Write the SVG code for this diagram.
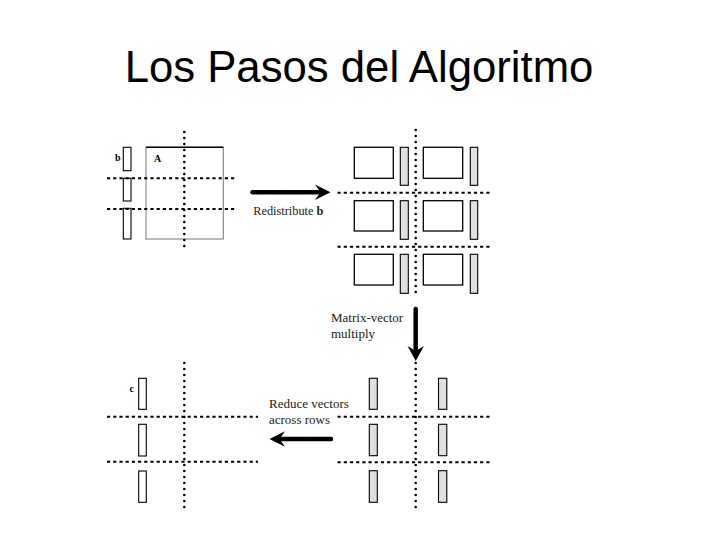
<svg xmlns="http://www.w3.org/2000/svg" width="720" height="540" viewBox="0 0 720 540">
<style>
.title{font-family:"Liberation Sans",Arial,sans-serif;font-size:43.7px;fill:#000}
.lbl{font-family:"Liberation Serif","Times New Roman",serif;font-size:13px;fill:#222}
.bl{font-family:"Liberation Serif","Times New Roman",serif;font-size:10px;font-weight:bold;fill:#000}
.blk{fill:#fff;stroke:#000;stroke-width:1.3}
.vec{fill:#fff;stroke:#000;stroke-width:1.1}
.gvec{fill:#e0e0e0;stroke:#000;stroke-width:1.1}
.vdot{stroke:#000;stroke-width:2.6;stroke-linecap:round;stroke-dasharray:0 6;fill:none}
.hdash{stroke:#000;stroke-width:2;stroke-dasharray:3.2 3;fill:none}
.arr{stroke:#000;stroke-width:4.5;stroke-linecap:round;fill:none}
.head{fill:#000}
</style>
<rect width="720" height="540" fill="#fff"/>
<text class="title" x="359" y="82" text-anchor="middle">Los Pasos del Algoritmo</text>

<g id="step1">
  <rect x="146" y="147.3" width="77.3" height="91.7" fill="none" stroke="#777" stroke-width="1"/>
  <line x1="146" y1="147.3" x2="223.3" y2="147.3" stroke="#000" stroke-width="1.5"/>
  <text class="bl" x="154" y="162">A</text>
  <rect class="vec" x="123.3" y="147.3" width="7.7" height="23.4"/>
  <rect class="vec" x="123.3" y="178.3" width="7.7" height="22.7"/>
  <rect class="vec" x="123.3" y="208.3" width="7.7" height="30.7"/>
  <text class="bl" x="115" y="161">b</text>
</g>

<g id="step2">
  <rect class="blk" x="354.3" y="147.3" width="39" height="31"/>
  <rect class="blk" x="354.3" y="200.7" width="39" height="30.3"/>
  <rect class="blk" x="354.3" y="254.3" width="39" height="30.7"/>
  <rect class="blk" x="423.3" y="147.3" width="39.4" height="31"/>
  <rect class="blk" x="423.3" y="200.7" width="39.4" height="30.3"/>
  <rect class="blk" x="423.3" y="254.3" width="39.4" height="30.7"/>
  <rect class="gvec" x="400.3" y="147.3" width="8" height="38"/>
  <rect class="gvec" x="400.3" y="200.7" width="8" height="38.6"/>
  <rect class="gvec" x="400.3" y="254.3" width="8" height="39"/>
  <rect class="gvec" x="470.3" y="147.3" width="7.4" height="38"/>
  <rect class="gvec" x="470.3" y="200.7" width="7.4" height="38.6"/>
  <rect class="gvec" x="470.3" y="254.3" width="7.4" height="39"/>
</g>

<g id="step3">
  <rect class="gvec" x="369.3" y="378.3" width="8" height="31"/>
  <rect class="gvec" x="369.3" y="424.3" width="8" height="31.4"/>
  <rect class="gvec" x="369.3" y="470.7" width="8" height="31.6"/>
  <rect class="gvec" x="438.5" y="378.3" width="8.3" height="31"/>
  <rect class="gvec" x="438.5" y="424.3" width="8.3" height="31.4"/>
  <rect class="gvec" x="438.5" y="470.7" width="8.3" height="31.6"/>
</g>

<g id="step4">
  <rect class="vec" x="138.7" y="378.3" width="7.6" height="31"/>
  <rect class="vec" x="138.7" y="424.3" width="7.6" height="31.7"/>
  <rect class="vec" x="138.7" y="471" width="7.6" height="31.3"/>
  <text class="bl" x="129.5" y="392">c</text>
</g>

<g id="grid-lines">
  <line class="vdot" x1="184.3" y1="132" x2="184.3" y2="252"/>
  <line class="hdash" x1="107" y1="178.3" x2="237" y2="178.3"/>
  <line class="hdash" x1="107" y1="209" x2="237" y2="209"/>

  <line class="vdot" x1="415.7" y1="130" x2="415.7" y2="298"/>
  <line class="hdash" x1="337.5" y1="192.7" x2="490" y2="192.7"/>
  <line class="hdash" x1="337.5" y1="246.7" x2="490" y2="246.7"/>

  <line class="vdot" x1="415.7" y1="363" x2="415.7" y2="513"/>
  <line class="hdash" x1="337.5" y1="416.7" x2="490" y2="416.7"/>
  <line class="hdash" x1="337.5" y1="462.3" x2="490" y2="462.3"/>

  <line class="vdot" x1="184.3" y1="363" x2="184.3" y2="513"/>
  <line class="hdash" x1="107" y1="416.7" x2="258" y2="416.7"/>
  <line class="hdash" x1="107" y1="461.7" x2="258" y2="461.7"/>
</g>

<g id="connectors">
  <line class="arr" x1="252.5" y1="192.3" x2="320" y2="192.3"/>
  <path class="head" d="M330.5,192.3 L315,184.5 L320.5,192.3 L315,200.1 Z"/>
  <text class="lbl" x="253.3" y="215" style="font-size:12.3px">Redistribute <tspan font-weight="bold">b</tspan></text>

  <line class="arr" x1="415.7" y1="309" x2="415.7" y2="350"/>
  <path class="head" d="M415.7,361 L407.5,346 L415.7,351 L423.9,346 Z"/>
  <text class="lbl" x="331" y="322">Matrix-vector</text>
  <text class="lbl" x="331" y="337.5">multiply</text>

  <line class="arr" x1="331" y1="439" x2="281" y2="439"/>
  <path class="head" d="M269.5,439 L285,431.2 L279.5,439 L285,446.8 Z"/>
  <text class="lbl" x="269" y="408.3">Reduce vectors</text>
  <text class="lbl" x="269" y="424">across rows</text>
</g>
</svg>
